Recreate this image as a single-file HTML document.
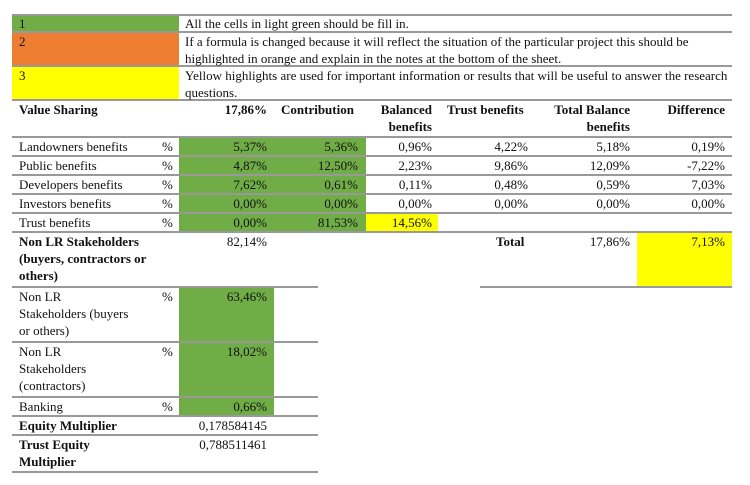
<!DOCTYPE html>
<html><head><meta charset="utf-8"><style>
body{margin:0;width:750px;height:485px;background:#fff;position:relative;overflow:hidden;font-family:"Liberation Serif",serif;color:#111}
.f{position:absolute}
.t{position:absolute;font-size:13px;line-height:17px;white-space:nowrap}
.r{text-align:right}
.b{font-weight:bold}
.h{position:absolute;height:2px;background:#999}
</style></head><body>
<div class="f" style="left:12px;top:15px;width:167px;height:17px;background:#70ad47"></div>
<div class="f" style="left:12px;top:32px;width:167px;height:34px;background:#ed7d31"></div>
<div class="f" style="left:12px;top:66px;width:167px;height:34px;background:#ffff00"></div>
<div class="f" style="left:179px;top:137px;width:187px;height:95px;background:#70ad47"></div>
<div class="f" style="left:179px;top:287px;width:95px;height:129px;background:#70ad47"></div>
<div class="f" style="left:366px;top:213px;width:72px;height:19px;background:#ffff00"></div>
<div class="f" style="left:637px;top:232px;width:95px;height:55px;background:#ffff00"></div>

<div class="h" style="left:12px;top:14px;width:720px"></div>
<div class="h" style="left:12px;top:31px;width:720px"></div>
<div class="h" style="left:12px;top:65px;width:720px"></div>
<div class="h" style="left:12px;top:99px;width:720px"></div>
<div class="h" style="left:12px;top:136px;width:720px"></div>
<div class="h" style="left:12px;top:155px;width:720px"></div>
<div class="h" style="left:12px;top:174px;width:720px"></div>
<div class="h" style="left:12px;top:193px;width:720px"></div>
<div class="h" style="left:12px;top:212px;width:720px"></div>
<div class="h" style="left:12px;top:231px;width:720px"></div>
<div class="h" style="left:12px;top:286px;width:306px"></div>
<div class="h" style="left:480px;top:286px;width:252px"></div>
<div class="h" style="left:12px;top:341px;width:306px"></div>
<div class="h" style="left:12px;top:396px;width:306px"></div>
<div class="h" style="left:12px;top:415px;width:306px"></div>
<div class="h" style="left:12px;top:434px;width:306px"></div>
<div class="h" style="left:12px;top:471px;width:306px"></div>

<div class="t" style="left:19px;top:15px">1</div>
<div class="t" style="left:19px;top:33px">2</div>
<div class="t" style="left:19px;top:67px">3</div>
<div class="t" style="left:185px;top:15px">All the cells in light green should be fill in.</div>
<div class="t" style="left:185px;top:33px">If a formula is changed because it will reflect the situation of the particular project this should be<br>highlighted in orange and explain in the notes at the bottom of the sheet.</div>
<div class="t" style="left:185px;top:67px">Yellow highlights are used for important information or results that will be useful to answer the research<br>questions.</div>

<div class="t b" style="left:19px;top:101px">Value Sharing</div>
<div class="t r b" style="right:483px;top:101px">17,86%</div>
<div class="t b" style="left:281px;top:101px">Contribution</div>
<div class="t r b" style="right:318px;top:101px">Balanced<br>benefits</div>
<div class="t b" style="left:447px;top:101px">Trust benefits</div>
<div class="t r b" style="right:120px;top:101px">Total Balance<br>benefits</div>
<div class="t r b" style="right:25px;top:101px">Difference</div>

<div id="rows"></div>

<div class="t b" style="left:19px;top:233px">Non LR Stakeholders<br>(buyers, contractors or<br>others)</div>
<div class="t r" style="right:483px;top:233px">82,14%</div>
<div class="t b" style="left:496px;top:233px">Total</div>
<div class="t r" style="right:120px;top:233px">17,86%</div>
<div class="t r" style="right:25px;top:233px">7,13%</div>

<div class="t" style="left:19px;top:288px">Non LR<br>Stakeholders (buyers<br>or others)</div>
<div class="t" style="left:162px;top:288px">%</div>
<div class="t r" style="right:483px;top:288px">63,46%</div>
<div class="t" style="left:19px;top:343px">Non LR<br>Stakeholders<br>(contractors)</div>
<div class="t" style="left:162px;top:343px">%</div>
<div class="t r" style="right:483px;top:343px">18,02%</div>
<div class="t" style="left:19px;top:398px">Banking</div>
<div class="t" style="left:162px;top:398px">%</div>
<div class="t r" style="right:483px;top:398px">0,66%</div>
<div class="t b" style="left:19px;top:417px">Equity Multiplier</div>
<div class="t r" style="right:483px;top:417px">0,178584145</div>
<div class="t b" style="left:19px;top:436px">Trust Equity<br>Multiplier</div>
<div class="t r" style="right:483px;top:436px">0,788511461</div>

<script>
const labels=["Landowners benefits","Public benefits","Developers benefits","Investors benefits","Trust benefits"];
const shares=["5,37%","4,87%","7,62%","0,00%","0,00%"];
const contributions=["5,36%","12,50%","0,61%","0,00%","81,53%"];
const balanced=["0,96%","2,23%","0,11%","0,00%","14,56%"];
const trustBen=["4,22%","9,86%","0,48%","0,00%",""];
const totalBal=["5,18%","12,09%","0,59%","0,00%",""];
const diffs=["0,19%","-7,22%","7,03%","0,00%",""];
const host=document.getElementById('rows');
const rights=[483,392,318,222,120,25];
function cell(txt,style,name,inter){
  const d=document.createElement('div');
  d.className='t'+(style.right!==undefined?' r':'');
  for(const k in style)d.style[k]=style[k]+'px';
  d.textContent=txt;
  
  
  host.appendChild(d);
}
labels.forEach((lab,i)=>{
  const top=138+i*19;
  const slug=lab.toLowerCase().replace(/ /g,'-');
  cell(lab,{left:19,top:top},slug+'-label','false');
  cell('%',{left:162,top:top},slug+'-unit','false');
  const vals=[shares[i],contributions[i],balanced[i],trustBen[i],totalBal[i],diffs[i]];
  const names=['share','contribution','balanced','trust','total-balance','difference'];
  vals.forEach((v,j)=>{ if(v) cell(v,{right:rights[j],top:top},slug+'-'+names[j],j<2?'true':'false'); });
});
</script>
</body></html>
